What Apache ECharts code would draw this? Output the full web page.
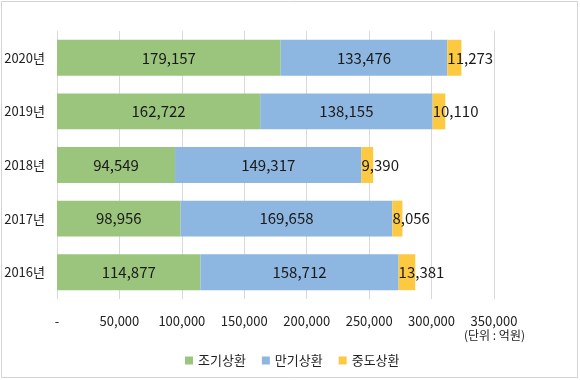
<!DOCTYPE html>
<html><head><meta charset="utf-8">
<script src="https://cdn.jsdelivr.net/npm/echarts@6/dist/echarts.min.js"></script>
<style>html,body{margin:0;padding:0;background:#fff}#c{width:580px;height:380px}</style>
</head><body><div id="c"></div>
<script>
const categories = ['2016년','2017년','2018년','2019년','2020년'];
const early = [114877, 98956, 94549, 162722, 179157];
const maturity = [158712, 169658, 149317, 138155, 133476];
const midway = [13381, 8056, 9390, 10110, 11273];
const seriesNames = ['조기상환','만기상환','중도상환'];
const unitText = '(단위 : 억원)';

const font = '"Noto Sans CJK KR", "Noto Sans", sans-serif';
const fmt = v => v.toLocaleString('en-US');
const chart = echarts.init(document.getElementById('c'), null, {renderer:'canvas'});
chart.setOption({
  animation:false,
  textStyle:{fontFamily:font},
  grid:{left:57, right:86, top:31, bottom:81},
  legend:{
    data:seriesNames, left:180, top:349, itemWidth:8, itemHeight:8, itemGap:16,
    icon:'rect', textStyle:{fontSize:13, color:'#222', fontFamily:font}
  },
  xAxis:{
    type:'value', min:0, max:350000, interval:50000,
    axisLine:{show:false}, axisTick:{show:false},
    splitLine:{lineStyle:{color:'#d9d9d9'}},
    axisLabel:{margin:16, fontSize:13, color:'#222', fontFamily:font,
      formatter:v => v===0 ? '-' : fmt(v)}
  },
  yAxis:{
    type:'category', data:categories,
    axisLine:{show:false}, axisTick:{show:false},
    axisLabel:{margin:12, fontSize:13, color:'#222', fontFamily:font}
  },
  graphic:[
    {type:'rect', shape:{x:1.5,y:1.5,width:576,height:376}, style:{fill:'none', stroke:'#d4d4d4', lineWidth:1}, silent:true},
    {type:'text', left:464, top:329, style:{text:unitText, fontSize:12, fill:'#222', fontFamily:font}}
  ],
  series:[
    {name:seriesNames[0], type:'bar', stack:'s', data:early, barCategoryGap:'33%',
     itemStyle:{color:'#9bc47c'},
     label:{show:true, position:'inside', fontSize:15, color:'#1a1a1a', fontFamily:font, formatter:p=>fmt(p.value)}},
    {name:seriesNames[1], type:'bar', stack:'s', data:maturity,
     itemStyle:{color:'#8db6e0'},
     label:{show:true, position:'inside', fontSize:15, color:'#1a1a1a', fontFamily:font, formatter:p=>fmt(p.value)}},
    {name:seriesNames[2], type:'bar', stack:'s', data:midway,
     itemStyle:{color:'#fcc940'},
     label:{show:true, position:'insideLeft', distance:0, fontSize:15, color:'#1a1a1a', fontFamily:font, formatter:p=>fmt(p.value)}}
  ]
});
</script></body></html>
